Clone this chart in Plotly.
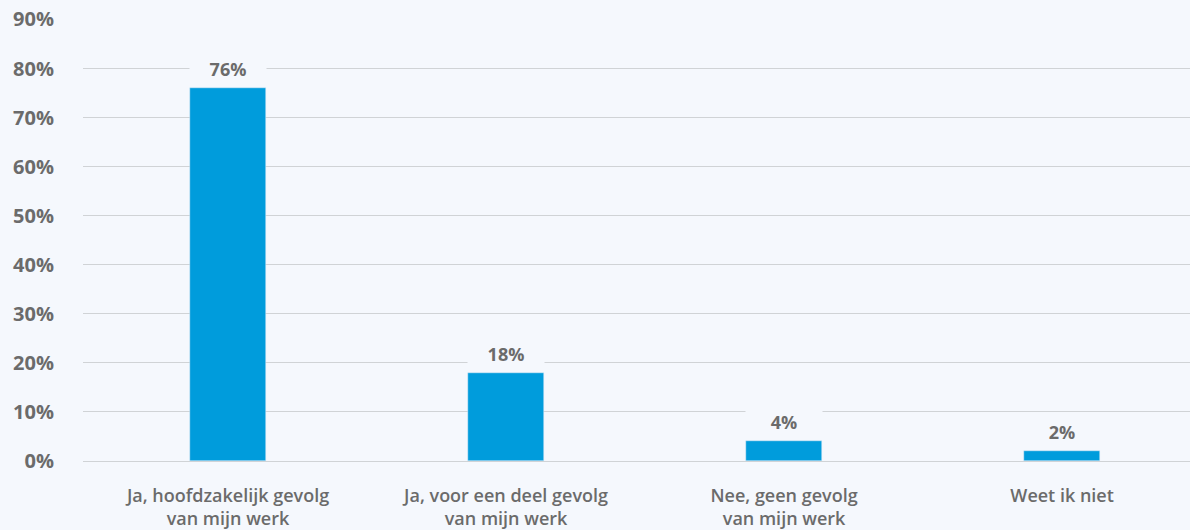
import plotly.graph_objects as go

categories = ["Ja, hoofdzakelijk gevolg<br>van mijn werk", "Ja, voor een deel gevolg<br>van mijn werk",
              "Nee, geen gevolg<br>van mijn werk", "Weet ik niet"]
values = [76, 18, 4, 2]
labels = ["76%", "18%", "4%", "2%"]
y_ticks = [0, 10, 20, 30, 40, 50, 60, 70, 80, 90]
y_tick_labels = [f"{v}%" for v in y_ticks]

BG = "#f5f8fd"
GREY = "#6b6b6b"
FONT = "Open Sans"

fig = go.Figure()
fig.add_trace(go.Bar(x=list(range(len(categories))), y=values, marker_color="#009cdc",
                     width=0.273, hoverinfo="skip"))

for i, (v, t) in enumerate(zip(values, labels)):
    fig.add_annotation(x=i, y=v, text=f"<b>{t}</b>", showarrow=False, yanchor="bottom",
                       yshift=3, width=70, align="center",
                       font=dict(family=FONT, size=18, color=GREY),
                       bgcolor=BG, borderpad=3)

fig.update_layout(
    width=1190, height=530,
    margin=dict(l=83, r=0, t=19, b=69),
    paper_bgcolor=BG, plot_bgcolor=BG,
    showlegend=False,
    bargap=0,
    xaxis=dict(tickmode="array", tickvals=list(range(len(categories))), ticktext=categories,
               range=[-0.5216, 3.460], showgrid=False, zeroline=False, showline=False,
               tickfont=dict(family=FONT, size=18, color=GREY, weight=600), ticks="",
               ticklabelstandoff=22),
    yaxis=dict(range=[0, 90.1], tickvals=y_ticks, ticktext=[f"<b>{s}</b>" for s in y_tick_labels],
               showgrid=True, gridcolor="#d0d3d6", gridwidth=1, zeroline=True,
               zerolinecolor="#d0d3d6", zerolinewidth=1,
               tickfont=dict(family=FONT, size=20, color=GREY), ticks="", ticklabelstandoff=28),
)

fig.write_html("out.html", config={"displayModeBar": False})
with open("out.html", encoding="utf-8") as f:
    html = f.read()
html = html.replace("<body>", '<body style="margin:0;padding:0;">', 1)
with open("out.html", "w", encoding="utf-8") as f:
    f.write(html)
